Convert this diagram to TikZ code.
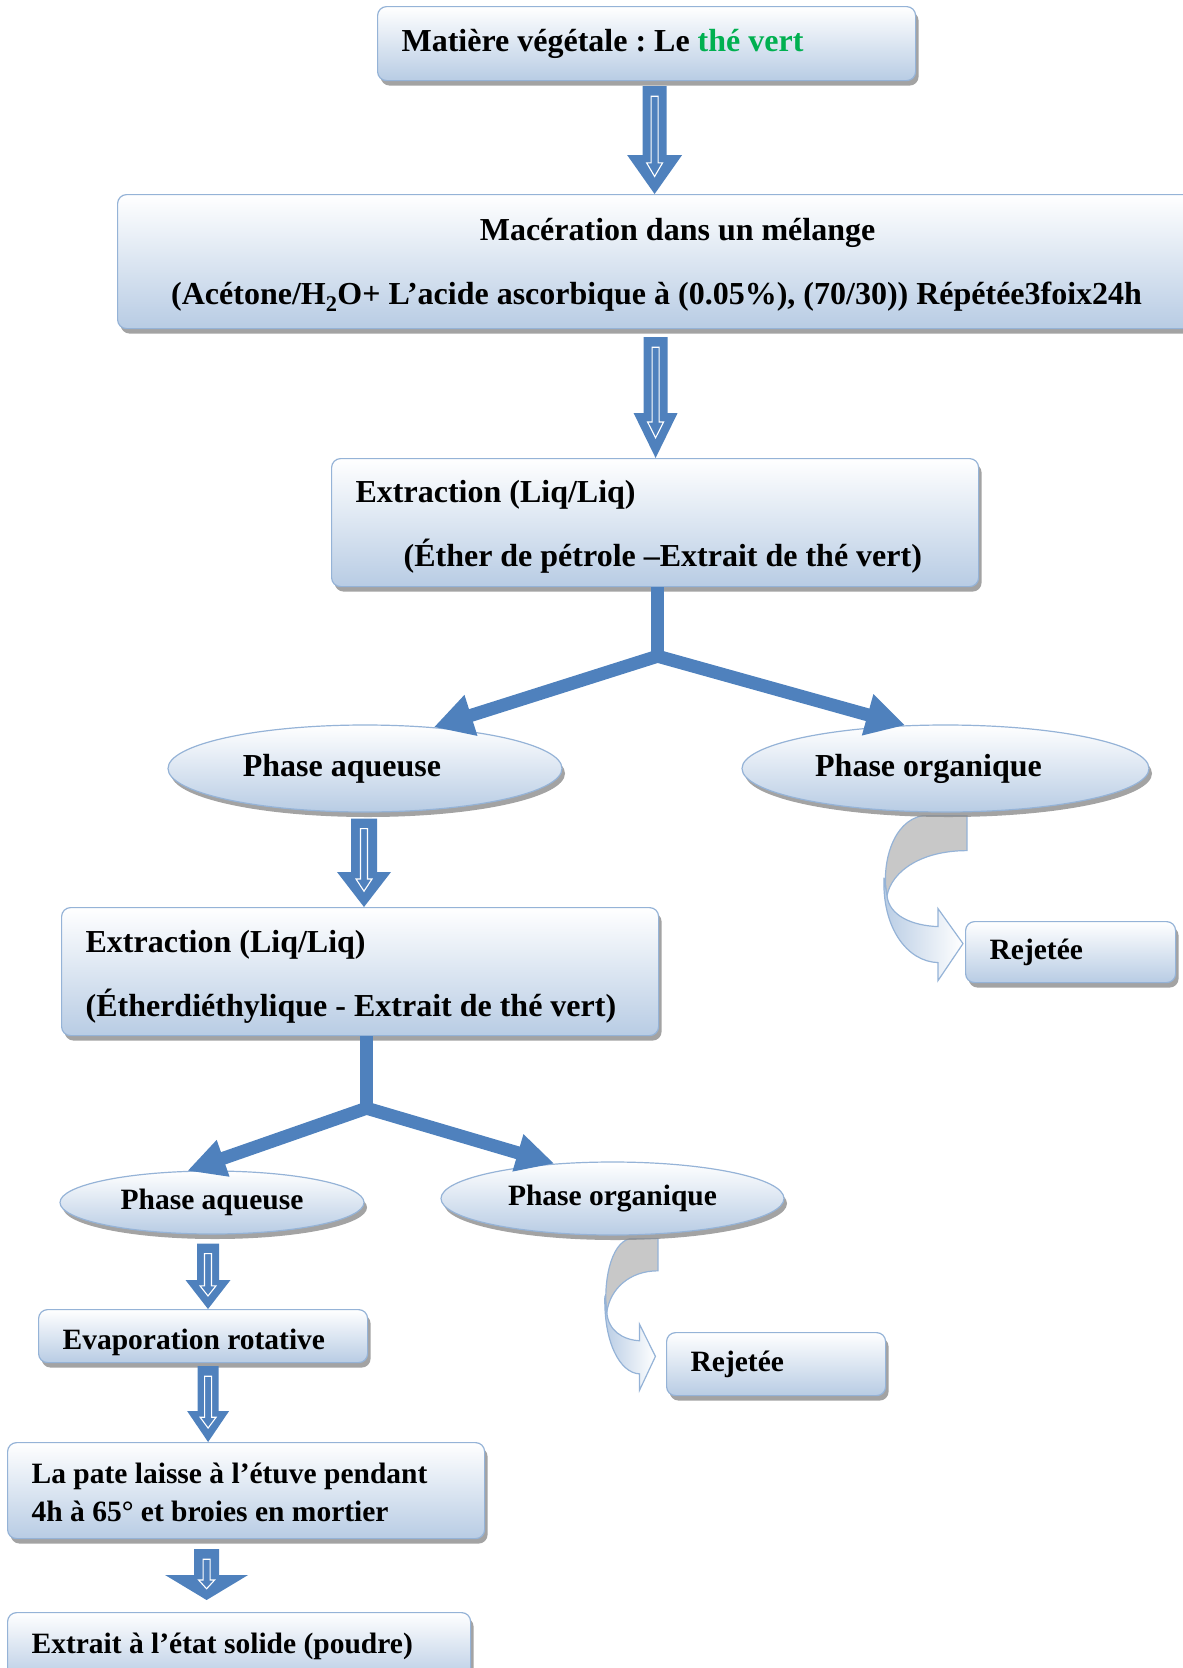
\documentclass[tikz,border=0pt]{standalone}
\usepackage{fontspec}
\setmainfont{Liberation Serif}
\usetikzlibrary{shapes.geometric,shadows,calc,arrows.meta,backgrounds}
\definecolor{arrowblue}{HTML}{4F81BD}
\definecolor{boxedge}{HTML}{95B3D7}
\definecolor{boxblue}{HTML}{B8CCE4}
\definecolor{teagreen}{HTML}{00B050}
\definecolor{backgray}{HTML}{C8C8C8}
\frenchspacing

% block arrow: start, end, shaft half width, head half width, head length
\newcommand{\flowarrow}[5]{%
\fill[arrowblue] let \p1=#1, \p2=#2 in
  (\x1-#3,\y1) -- (\x1+#3,\y1) -- (\x1+#3,\y2+#5) -- (\x1+#4,\y2+#5) -- (\x1,\y2)
  -- (\x1-#4,\y2+#5) -- (\x1-#3,\y2+#5) -- cycle;
\draw[white, line width=1.1pt, line join=miter] let \p1=#1, \p2=#2 in
  (\x1-3.5pt,\y1-10pt) -- (\x1+3.5pt,\y1-10pt) -- (\x1+3.5pt,\y2+0.8*#5) -- (\x1+8pt,\y2+0.8*#5)
  -- (\x1,\y2+0.45*#5) -- (\x1-8pt,\y2+0.8*#5) -- (\x1-3.5pt,\y2+0.8*#5) -- cycle;}

% curved ribbon arrow, origin at its top right corner
\newcommand{\rejectarrow}{%
\filldraw[draw=boxedge, line width=1.2pt, fill=backgray] (-44,0) -- (0,0) -- (0,35)
  .. controls (-45,35) and (-75,55) .. (-80,80) .. controls (-86,50) and (-75,5) .. (-44,0) -- cycle;
\draw[draw=boxedge, line width=1.2pt, left color=boxblue, right color=white] (-83,62)
  .. controls (-85,112) and (-60,146) .. (-29,147) -- (-29,165) -- (-4,128) -- (-29,93) -- (-29,111)
  .. controls (-55,110) and (-78,100) .. (-80,80) -- cycle;}

\begin{document}
\begin{tikzpicture}[x=1pt, y=-1pt,
  bigtext/.style={font=\fontsize{32}{38}\selectfont\bfseries},
  smalltext/.style={font=\fontsize{29.5}{38}\selectfont\bfseries},
  boxshadow/.style={drop shadow={shadow xshift=3pt, shadow yshift=-5pt, fill=black!45, opacity=0.8}},
  box/.style={draw=boxedge, line width=1.2pt, rounded corners=9pt, top color=white, bottom color=boxblue,
    boxshadow, anchor=north west, inner xsep=24pt, inner ysep=0pt, align=left,
    execute at begin node={\spaceskip=0.25em\relax}},
  phase/.style={ellipse, draw=boxedge, line width=1.2pt, top color=white, bottom color=boxblue,
    boxshadow, inner sep=0pt},
  splitline/.style={arrowblue, line width=13pt, line join=miter}]
\useasboundingbox (0,0) rectangle (1183,1668);

\node[box, bigtext, text width=490pt, minimum height=74pt] (matiere) at (377,6) {Matière végétale : Le \textcolor{teagreen}{thé vert}};
\node[box, bigtext, text width=1030pt, minimum height=134pt, text height=29.5pt, align=center] (maceration) at (117,194) {\hspace*{42pt}Macération dans un mélange\\[26pt]
  (Acétone/H\textsubscript{2}O+ L’acide ascorbique à (0.05\%), (70/30)) Répétée3foix24h};
\node[box, bigtext, text width=599pt, minimum height=128pt, text height=31pt] (extraction1) at (331,458) {Extraction (Liq/Liq)\\[26pt]
  \hspace*{48pt}(Éther de pétrole –Extrait de thé vert)};
\node[phase, bigtext, minimum width=394pt, minimum height=87pt] (aqueuse1) at (365,768.5) {\hspace*{-46pt}Phase aqueuse};
\node[phase, bigtext, minimum width=407pt, minimum height=87pt] (organique1) at (945.5,768.5) {\hspace*{-34pt}Phase organique};
\node[box, smalltext, text width=162pt, minimum height=61pt] (rejetee1) at (965,921) {Rejetée};
\node[box, bigtext, text width=549pt, minimum height=128pt, text height=32pt] (extraction2) at (61,907) {Extraction (Liq/Liq)\\[26pt]
  (Étherdiéthylique - Extrait de thé vert)};
\node[phase, smalltext, minimum width=304pt, minimum height=63pt] (aqueuse2) at (212,1202.5) {Phase aqueuse};
\node[phase, smalltext, minimum width=343pt, minimum height=73pt] (organique2) at (612.5,1198.5) {Phase organique};
\node[box, smalltext, text width=171pt, minimum height=63pt] (rejetee2) at (666,1332) {Rejetée};
\node[box, smalltext, text width=281pt, minimum height=53pt, text height=27pt, text depth=0pt] (evaporation) at (38,1309) {Evaporation rotative};
\node[box, smalltext, text width=429pt, minimum height=96pt, text height=25pt] (pate) at (7,1442) {La pate laisse à l’étuve pendant\\
  4h à 65° et broies en mortier};
\node[box, smalltext, text width=415pt, minimum height=68pt] (poudre) at (7,1612) {Extrait à l’état solide (poudre)};

% block arrows
\flowarrow{($(matiere.south)+(8,5)$)}{(maceration.north)}{12pt}{27.5pt}{39pt}
\flowarrow{($(maceration.south)+(-1,8)$)}{(extraction1.north)}{12pt}{22pt}{45pt}
\flowarrow{($(aqueuse1.south)+(-1,6)$)}{(extraction2.north)}{13pt}{27pt}{35pt}
\flowarrow{($(aqueuse2.south)+(-4,9)$)}{(evaporation.north)}{11pt}{22.5pt}{29pt}
\flowarrow{($(evaporation.south)+(5,3)$)}{(pate.north)}{10.5pt}{21pt}{31pt}
\flowarrow{($(pate.south)+(-39.5,10)$)}{($(poudre.north)+(0,-12)$)}{12.5pt}{41.5pt}{25pt}

% forks
\coordinate (fork1) at ($(extraction1.south)+(2.5,69)$);
\draw[splitline] ($(extraction1.south)+(2.5,0)$) -- (fork1);
\draw[splitline, {Triangle[length=39pt,width=40pt]}-{Triangle[length=39pt,width=40pt]}] (aqueuse1.31) -- (fork1) -- (organique1.133);
\coordinate (fork2) at ($(extraction2.south)+(6.5,72)$);
\draw[splitline] ($(extraction2.south)+(6.5,0)$) -- (fork2);
\draw[splitline, {Triangle[length=38pt,width=36pt]}-{Triangle[length=38pt,width=36pt]}] (aqueuse2.128) -- (fork2) -- (organique2.149);

% rejected phases
\begin{scope}[on background layer, shift={($(organique1.south)+(21.5,3)$)}]
\rejectarrow
\end{scope}
\begin{scope}[on background layer, shift={($(organique2.south)+(45.5,3)$)}, xscale=0.64, yscale=0.92]
\rejectarrow
\end{scope}

\end{tikzpicture}
\end{document}
